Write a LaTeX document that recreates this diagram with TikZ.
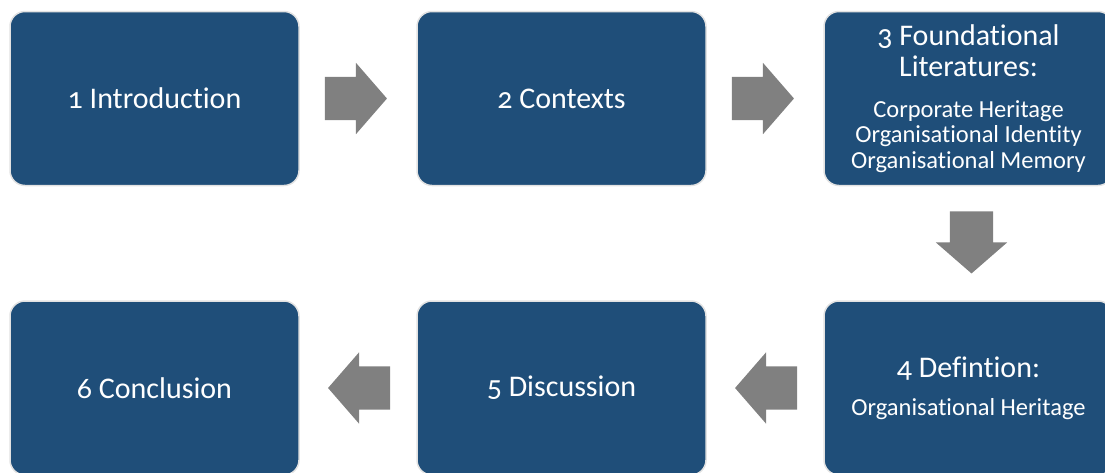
\documentclass[tikz,border=0pt]{standalone}
\usepackage{fontspec}
\setmainfont{Carlito}[Numbers=OldStyle,Ligatures=NoCommon,Contextuals=NoAlternate]
\usetikzlibrary{shapes.arrows,positioning,calc}
\definecolor{stagefill}{HTML}{1F4E79}
\definecolor{stageline}{HTML}{E2E2E2}
\definecolor{flowgray}{HTML}{808080}
\tikzstyle{stage} = [rectangle, rounded corners=15pt, minimum width=289pt, minimum height=174pt, text centered, draw=stageline, line width=1.5pt, fill=stagefill, text=white, font=\fontsize{30}{34}\selectfont]
\tikzstyle{detail} = [font=\fontsize{24.5}{25.5}\selectfont]
\tikzstyle{flow} = [single arrow, fill=flowgray, draw=none, inner xsep=0pt, inner ysep=21.5pt, minimum height=62pt, minimum width=71pt, single arrow head extend=14pt, single arrow tip angle=98, anchor=tail]
\newcommand{\headsize}{\fontsize{30}{34}\selectfont}

\begin{document}
\begin{tikzpicture}[node distance=114pt and 116.5pt, every text node part/.style={align=center}]
\useasboundingbox (0,0) rectangle (1105pt,-472pt);

\node(one)[stage] at (154.5pt,-98.5pt) {1 Introduction};
\node(two)[stage,right=of one]{2 Contexts};
\node(three)[stage,detail,right=of two]{\headsize 3 Foundational\\[5.5pt]
\headsize Literatures:\\[15.5pt] Corporate Heritage\\ Organisational Identity\\ Organisational Memory};
\node(four)[stage,detail,below=of three]{\headsize 4 Defintion:\\[12.5pt]
Organisational Heritage};
\node(five)[stage,left=of four]{5 Discussion};
\node(six)[stage,left=of five]{6 Conclusion};

% block arrows between the stages
\node(a12)[flow] at ($(one.east)+(25pt,0)$) {};
\node(a23)[flow] at ($(two.east)+(25pt,0)$) {};
\node(a34)[flow,shape border rotate=270,inner xsep=21.5pt,inner ysep=0pt] at ($(three.south)+(3pt,-25pt)$) {};
\node(a45)[flow,shape border rotate=180] at ($(four.west)+(-26pt,0)$) {};
\node(a56)[flow,shape border rotate=180] at ($(five.west)+(-26pt,0)$) {};

\end{tikzpicture}
\end{document}
